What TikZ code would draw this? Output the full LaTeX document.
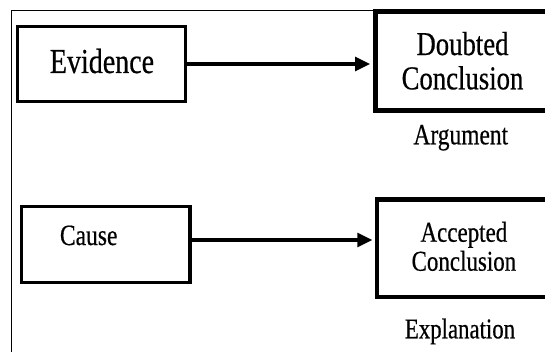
\documentclass[tikz,border=0pt]{standalone}
\usepackage{fontspec}
\setmainfont{Liberation Serif}
\newfontfamily\narrowserif[FakeStretch=0.8, FakeBold=0.5]{Liberation Serif}
\usetikzlibrary{arrows.meta}

\begin{document}
\begin{tikzpicture}[x=1pt, y=-1pt,
  leftbox/.style={draw, line width=3.5pt, minimum width=168pt, minimum height=75pt, inner sep=0pt},
  rightbox/.style={draw, line width=5pt, minimum width=200pt, inner sep=0pt},
  boxtext/.style={inner sep=0pt, align=center},
  link/.style={line width=3.2pt, shorten >=2.5pt, -{Triangle[length=15pt, width=14pt]}}]
  \useasboundingbox (0,0) rectangle (545,352);
  \clip (0,0) rectangle (545,352);

  % Frame
  \draw[line width=1.2pt] (11.5,360) -- (11.5,10.5) -- (560,10.5);

  % Argument
  \node[leftbox] (evidence) at (101.5,64) {};
  \node[boxtext, anchor=base, font=\narrowserif\fontsize{35}{40}\selectfont] (evidencetext) at (102,73) {Evidence};

  \node[rightbox, minimum height=99pt] (doubted) at (475,61.5) {};
  \node[boxtext, font=\narrowserif\fontsize{33.4}{34.3}\selectfont] (doubtedtext) at (462.5,60.75) {Doubted\\Conclusion};

  \node[boxtext, anchor=base, font=\narrowserif\fontsize{29.3}{32}\selectfont] (argument) at (460.8,144.3) {Argument};

  \draw[link] (evidence.east) -- (evidence.east -| doubted.west);

  % Explanation
  \node[leftbox, minimum width=168.5pt, minimum height=76pt] (cause) at (105.75,244.5) {};
  \node[boxtext, anchor=base, font=\narrowserif\fontsize{29.4}{32}\selectfont] (causetext) at (88.7,245) {Cause};

  \node[rightbox, line width=4.5pt, minimum height=97.5pt] (accepted) at (477,248.25) {};
  \node[boxtext, font=\narrowserif\fontsize{28.7}{29}\selectfont] (acceptedtext) at (463.9,246.4) {Accepted\\Conclusion};

  \node[boxtext, anchor=base, font=\narrowserif\fontsize{28.5}{32}\selectfont] (explanation) at (460,338.3) {Explanation};

  \draw[link] ([yshift=4.5pt]cause.east) -- ([yshift=4.5pt]cause.east -| accepted.west);
\end{tikzpicture}
\end{document}
